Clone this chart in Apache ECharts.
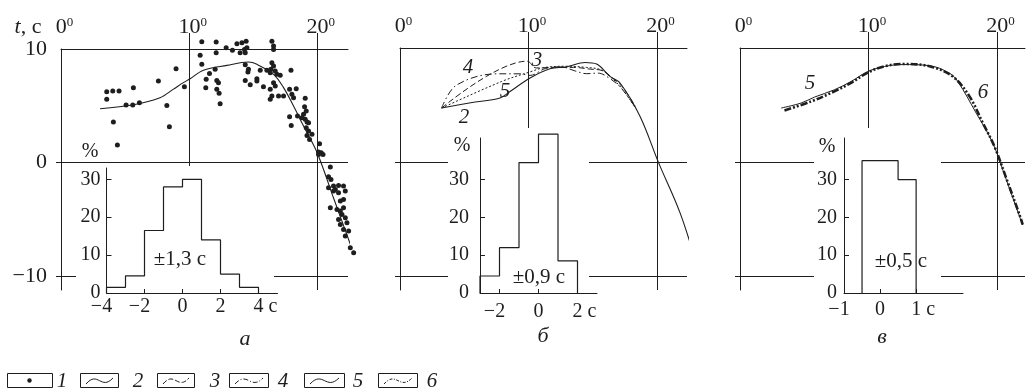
<!DOCTYPE html>
<html>
<head>
<meta charset="utf-8">
<title>Погрешность прогноза t</title>
<script src="https://cdn.jsdelivr.net/npm/echarts@6.0.0/dist/echarts.min.js"></script>
<style>html,body{margin:0;padding:0;background:#fff;}</style>
</head>
<body>
<div id="main" style="width:1028px;height:390px;"></div>
<script type="text/javascript">
// ---- данные (градусы, секунды) ----
var dotsA = [
  [3.57,6.24],[4.04,6.30],[4.53,6.30],[3.57,5.57],[5.65,6.60],[5.08,5.07],[5.60,5.07],[6.12,5.28],[4.09,3.57],[4.40,1.55],
  [7.60,7.18],[8.98,8.27],[8.26,5.04],[8.46,3.17],[9.63,6.68],
  [10.99,10.64],[10.86,9.44],[10.99,8.65],[12.11,10.61],[12.11,9.67],[11.59,7.85],[11.33,7.33],[11.30,6.60],[12.03,8.21],[12.16,7.24],
  [12.29,7.04],[12.16,6.45],[12.34,6.10],[12.42,5.19],[12.89,10.11],[13.38,9.90],[13.73,10.47],[13.98,9.67],[14.12,10.55],[14.45,10.69],
  [14.32,9.96],[14.51,10.11],[14.38,9.67],[14.38,8.62],[14.63,8.21],[14.59,7.97],[14.38,7.24],[14.77,6.86],[15.29,7.39],[15.29,7.18],
  [15.55,8.12],[15.80,6.68],[16.07,8.12],
  [16.46,10.69],[16.59,10.26],[16.59,9.96],[16.46,8.80],[16.59,8.50],[16.38,8.21],[16.72,8.06],[16.33,7.92],[16.85,7.77],[16.59,7.04],
  [16.72,6.74],[16.33,6.45],[16.46,5.86],[16.33,5.57],[16.98,5.86],[17.37,5.86],[17.11,7.68],
  [17.95,8.14],[17.84,6.45],[18.02,6.01],[18.36,6.51],[18.15,5.72],[18.46,4.10],[17.84,4.05],[17.97,3.28],
  [19.06,5.66],[19.01,4.93],[19.14,4.54],[18.93,4.25],[18.80,3.96],[19.06,3.81],[19.20,3.57],[19.32,3.52],[19.14,3.08],[19.32,2.78],
  [19.59,2.49],[19.20,2.40],[19.40,2.05],[20.18,1.67],[20.10,0.93],[20.31,0.88],[20.45,0.73],[20.10,0.73],[21.02,-0.39],[20.88,-1.23],
  [21.07,-1.47],[21.27,-2.06],[20.88,-2.20],[21.66,-2.00],[22.05,-2.06],[22.19,-2.50],[21.27,-2.50],[21.66,-2.64],[22.05,-3.23],[21.80,-3.38],
  [21.02,-3.96],[21.54,-4.11],[22.05,-3.96],[21.93,-4.55],[22.19,-4.84],[21.66,-4.99],[21.80,-5.43],[22.32,-5.28],[22.05,-5.87],[22.45,-6.02],
  [22.19,-6.46],[22.58,-7.48],[22.84,-7.92],[21.80,-4.26],[21.41,-2.35]
];
var curveA2 = [[3.05,4.75],[5.65,5.10],[7.73,5.72],[8.75,6.45],[9.55,7.04],[10.08,7.39],[11.12,8.14],[12.95,8.56],[14.63,8.85],
  [15.29,8.65],[16.59,7.77],[17.37,6.60],[18.15,4.98],[18.93,3.22],[20.0,0.85],[21.3,-3.2],[22.81,-7.89]];

var curveB2 = [[3.24,4.74],[5.5,5.2],[7.78,5.62],[8.56,6.19],[10.12,7.37],[11.67,8.18],[12.97,8.35],[14.4,8.73],[15.3,8.59],
  [16.34,7.51],[17.12,6.93],[18.68,4.0],[20.1,0.0],[21.79,-4.44],[22.96,-8.53]];
var curveB3 = [[3.24,4.74],[9.9,8.85],[10.6,8.25],[12.0,8.3],[13.5,8.3],[14.8,8.15],[15.8,8.0],[16.5,7.4],[17.3,6.6],[18.3,4.9]];
var curveB4 = [[3.24,4.74],[4.36,6.72],[7.52,7.74],[9.34,7.74],[10.12,7.6],[11.3,8.2],[12.5,8.35],[13.6,8.0],[14.5,7.75],
  [15.4,7.8],[16.3,7.35],[17.2,6.5],[18.3,4.8]];
var curveB5 = [[3.24,4.74],[7.91,7.07],[10.1,7.9],[11.3,8.3],[13.0,8.4],[14.5,8.3],[15.6,8.1],[16.4,7.45],[17.3,6.4],[18.4,4.6]];

var curveV5 = [[3.21,4.74],[4.76,5.18],[5.8,5.70],[7.35,6.34],[8.65,7.07],[9.95,7.94],[11.25,8.38],[12.67,8.55],[14.75,8.45],
  [16.3,7.8],[16.95,7.07],[18.38,4.3],[19.67,1.68],[20.72,-1.53],[21.75,-4.74],[22.0,-5.5]];
var curveV6 = [[3.46,4.53],[5.54,5.32],[7.35,6.2],[8.65,6.95],[9.95,7.85],[11.25,8.4],[12.67,8.6],[14.75,8.4],[16.56,7.5],
  [17.86,5.76],[18.9,3.43],[19.8,1.38],[20.72,-1.4],[21.75,-4.6],[22.0,-5.47]];

var histEdgesA = [-4,-3,-2,-1,0,1,2,3,4];
var histValsA = [1.5,4.5,16.5,28,30,14,5,1.5];
var histEdgesB = [-3,-2,-1,0,1,2];
var histValsB = [4.5,12,34.5,42,8.5];
var histEdgesV = [-0.5,0.5,1];
var histValsV = [35,30];

var degTicks = [0,10,20];
var tTicks = [-10,0,10];
var pctTicks = [0,10,20,30];
var secTicksA = [-4,-2,0,2,4];
var secTicksB = [-2,0,2];
var secTicksV = [-1,0,1];
var spreadLabels = ['±1,3 с','±0,9 с','±0,5 с'];
var panelNames = ['а','б','в'];
var legendLabels = ['1','2','3','4','5','6'];

// ---- оформление ----
var INK = '#1e1e1e';
var SERIF = 'Liberation Serif';

var myChart = echarts.init(document.getElementById('main'));

function stepData(edges, vals) {
  var d = [[edges[0], 0]];
  for (var i = 0; i < vals.length; i++) d.push([edges[i], vals[i]]);
  d.push([edges[edges.length - 1], 0]);
  return d;
}
function minus(v) { return v < 0 ? '−' + (-v) : String(v); }

function mainX(gi, max) {
  return {
    gridIndex: gi, type: 'value', position: 'top', min: 0, max: max,
    axisLine: {onZero: false, lineStyle: {color: INK, width: 1}},
    axisTick: {customValues: [10, 20], length: 16, lineStyle: {color: INK}},
    axisLabel: {
      customValues: degTicks, margin: 11,
      formatter: function (v) { return '{b|' + v + '}{s|0}'; },
      rich: {
        b: {fontFamily: SERIF, fontSize: 22, color: INK, padding: [0, 0, 0, 7], lineHeight: 22},
        s: {fontFamily: SERIF, fontSize: 13, color: INK, verticalAlign: 'top', lineHeight: 13}
      }
    },
    splitLine: {show: false}
  };
}
function mainY(gi, showLabels) {
  return {
    gridIndex: gi, type: 'value', min: -11.2, max: 10,
    axisLine: {onZero: false, lineStyle: {color: INK, width: 1}},
    axisTick: {customValues: [-10, 0], length: 5, lineStyle: {color: INK}},
    axisLabel: {show: showLabels, customValues: tTicks, margin: 14, fontFamily: SERIF, fontSize: 22, color: INK, formatter: minus},
    splitLine: {show: false}
  };
}
var secRich = {
  n: {fontFamily: SERIF, fontSize: 20, color: INK, padding: [0, 10, 0, 0]},
  u: {fontFamily: SERIF, fontSize: 20, color: INK, padding: [0, 0, 0, 14]},
  p: {fontFamily: SERIF, fontSize: 20, color: INK}
};
function insetX(gi, min, max, ticks, margin) {
  var last = ticks[ticks.length - 1];
  return {
    gridIndex: gi, type: 'value', min: min, max: max, z: 7,
    axisLine: {onZero: false, lineStyle: {color: INK, width: 1}},
    axisTick: {customValues: ticks, inside: true, length: 4, lineStyle: {color: INK}},
    axisLabel: {
      customValues: ticks, margin: margin, rich: secRich,
      formatter: function (v) {
        if (v < 0) return '{n|−' + (-v) + '}';
        if (v === last) return '{u|' + v + ' с}';
        return '{p|' + v + '}';
      }
    },
    splitLine: {show: false}
  };
}
function insetY(gi, max, margin) {
  return {
    gridIndex: gi, type: 'value', min: 0, max: max, z: 7,
    axisLine: {onZero: false, lineStyle: {color: INK, width: 1}},
    axisTick: {customValues: [10, 20, 30], inside: true, length: 5, lineStyle: {color: INK}},
    axisLabel: {customValues: pctTicks, margin: margin, fontFamily: SERIF, fontSize: 20, color: INK},
    splitLine: {show: false}
  };
}
function frameLines() {
  return {
    silent: true, symbol: 'none', label: {show: false}, animation: false, z: 2,
    lineStyle: {color: INK, width: 1, type: 'solid'},
    emphasis: {disabled: true},
    data: [{yAxis: 0}, {yAxis: -10}, {xAxis: 10}, {xAxis: 20}]
  };
}
function curve(xi, data, style, withFrame) {
  var s = {
    type: 'line', xAxisIndex: xi, yAxisIndex: xi, data: data, smooth: 0.35,
    symbol: 'none', clip: false, silent: true, z: 3,
    lineStyle: Object.assign({color: INK, width: 1.1}, style)
  };
  if (withFrame) s.markLine = frameLines();
  return s;
}
function hist(xi, edges, vals) {
  return {
    type: 'line', xAxisIndex: xi, yAxisIndex: xi, step: 'end', data: stepData(edges, vals),
    symbol: 'none', clip: false, silent: true, z: 8,
    lineStyle: {color: INK, width: 1.2}
  };
}

// ---- подписи и легенда ----
function txt(x, y, text, size, italic, align) {
  return {
    type: 'text', x: x, y: y, z: 9, silent: true,
    style: {text: text, fontFamily: SERIF, fontSize: size, fontStyle: italic ? 'italic' : 'normal',
      fill: INK, align: align || 'center', verticalAlign: 'middle'}
  };
}
function cover(x, y, w, h) {
  return {type: 'rect', z: 6, silent: true, shape: {x: x, y: y, width: w, height: h}, style: {fill: '#ffffff', stroke: null}};
}
var graphics = [
  cover(76, 166, 198, 134), cover(448, 128, 141, 172), cover(814, 128, 127, 172),
  {type: 'text', x: 28, y: 27, z: 9, silent: true, style: {
    text: '{i|t}{r|, с}', align: 'center', verticalAlign: 'middle',
    rich: {i: {fontFamily: SERIF, fontSize: 22, fontStyle: 'italic', fill: INK}, r: {fontFamily: SERIF, fontSize: 22, fill: INK}}
  }},
  txt(90, 152, '%', 20, false), txt(462, 146, '%', 20, false), txt(827, 147, '%', 20, false),
  txt(180, 259, spreadLabels[0], 21, false), txt(539, 277, spreadLabels[1], 21, false), txt(901, 261, spreadLabels[2], 21, false),
  txt(245, 339, panelNames[0], 22, true), txt(543, 336, panelNames[1], 22, true), txt(882, 337, panelNames[2], 22, true),
  txt(464, 117, '2', 21, true), txt(537, 60, '3', 21, true), txt(468, 67, '4', 21, true), txt(505, 91, '5', 21, true),
  txt(810, 83, '5', 21, true), txt(983, 92, '6', 21, true)
];
var legendBoxes = [[7, 45], [80, 38], [157, 37], [229, 39], [304, 40], [378, 39]];
var legendTextX = [62, 138, 215, 283, 358, 432];
var legendDash = [null, null, [5, 2], [5, 2, 1, 2], null, [3, 1.5, 1, 1.5]];
legendBoxes.forEach(function (b, i) {
  graphics.push({type: 'rect', z: 9, silent: true, shape: {x: b[0] + 0.5, y: 373.5, width: b[1], height: 14},
    style: {fill: 'none', stroke: INK, lineWidth: 1}});
  if (i === 0) {
    graphics.push({type: 'circle', z: 9, silent: true, shape: {cx: b[0] + b[1] / 2, cy: 380.5, r: 2.2}, style: {fill: INK}});
  } else {
    var x0 = b[0] + 6, x1 = b[0] + b[1] - 5;
    graphics.push({type: 'bezierCurve', z: 9, silent: true,
      shape: {x1: x0, y1: 384, x2: x1, y2: 378, cpx1: x0 + (x1 - x0) * 0.45, cpy1: 370, cpx2: x0 + (x1 - x0) * 0.55, cpy2: 391},
      style: {fill: 'none', stroke: INK, lineWidth: 1, lineDash: legendDash[i]}});
  }
  graphics.push(txt(legendTextX[i], 381, legendLabels[i], 21, true));
});

var option = {
  animation: false,
  backgroundColor: '#fff',
  grid: [
    {left: 61, top: 49, width: 287, height: 241},
    {left: 106.5, top: 168, width: 171, height: 125},
    {left: 400, top: 48, width: 287, height: 242},
    {left: 480, top: 138, width: 117, height: 155},
    {left: 740, top: 48, width: 285, height: 242},
    {left: 844, top: 138, width: 119, height: 155}
  ],
  xAxis: [
    mainX(0, 22.4), insetX(1, -4, 5, secTicksA, 4),
    mainX(2, 22.33), insetX(3, -3, 3, secTicksB, 9),
    mainX(4, 22.18), insetX(5, -1, 2.3, secTicksV, 7)
  ],
  yAxis: [
    mainY(0, true), insetY(1, 33, 6),
    mainY(2, false), insetY(3, 41, 11),
    mainY(4, false), insetY(5, 41, 7)
  ],
  series: [
    {type: 'scatter', xAxisIndex: 0, yAxisIndex: 0, data: dotsA, symbolSize: 5, silent: true, z: 3, clip: false,
      itemStyle: {color: INK, opacity: 1}, markLine: frameLines()},
    curve(0, curveA2, {}),
    hist(1, histEdgesA, histValsA),
    curve(2, curveB2, {}, true),
    curve(2, curveB3, {type: [6, 3], width: 1}),
    curve(2, curveB4, {type: [7, 3, 1.5, 3], width: 1}),
    curve(2, curveB5, {type: [2, 2], width: 1}),
    hist(3, histEdgesB, histValsB),
    curve(4, curveV5, {width: 1}, true),
    curve(4, curveV6, {type: [7, 2, 2, 2, 2, 2], width: 2.6}),
    hist(5, histEdgesV, histValsV)
  ],
  graphic: graphics
};
myChart.setOption(option);
</script>
</body>
</html>
